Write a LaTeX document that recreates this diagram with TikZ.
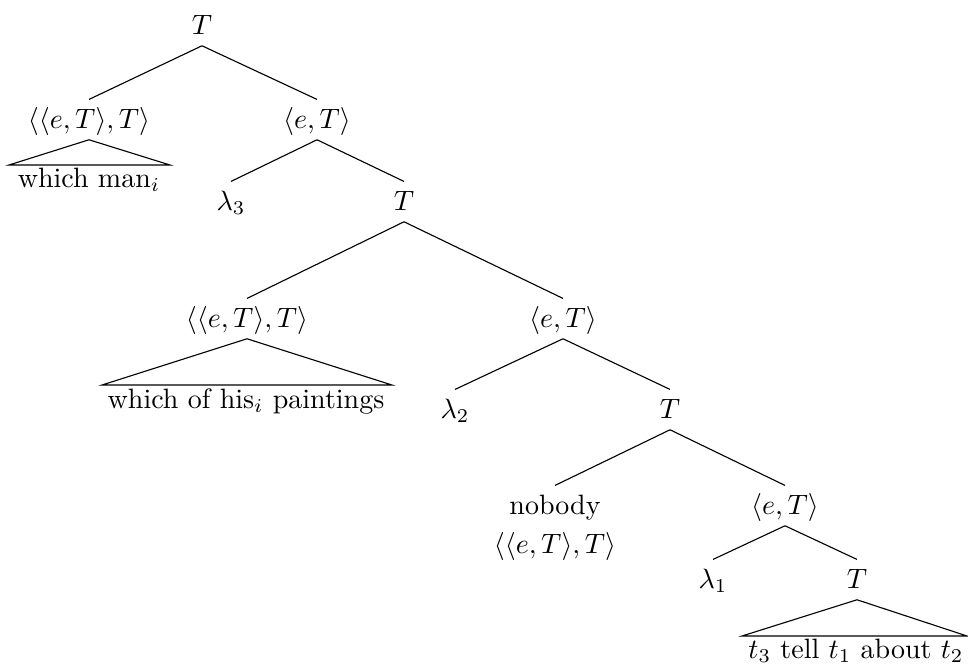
\documentclass[tikz,border=0pt]{standalone}
\begin{document}
\begin{tikzpicture}[x=0.357pt,y=-0.357pt,
  lab/.style={inner sep=0pt, text height=10pt, text depth=4pt, anchor=base},
  txt/.style={inner sep=0pt, anchor=base},
  branch/.style={line width=0.4pt}]
\useasboundingbox (0,0) rectangle (968,671);
% nodes
\node[lab] (r) at (202,34) {$T$};
\node[lab] (a) at (89,128) {$\langle\langle e,T\rangle,T\rangle$};
\node[lab] (b) at (317,128) {$\langle e,T\rangle$};
\node[txt] (at) at (89,187) {which man$_i$};
\node[lab] (l3) at (231,210) {$\lambda_3$};
\node[lab] (c) at (404,210) {$T$};
\node[lab] (d) at (247,327) {$\langle\langle e,T\rangle,T\rangle$};
\node[lab] (e) at (563,327) {$\langle e,T\rangle$};
\node[txt] (dt) at (246,408) {which of his$_i$ paintings};
\node[lab] (l2) at (455,418) {$\lambda_2$};
\node[lab] (f) at (670,418) {$T$};
\node[lab] (nob) at (555,514) {nobody};
\node[txt] (nobt) at (555,553) {$\langle\langle e,T\rangle,T\rangle$};
\node[lab] (g) at (785,514) {$\langle e,T\rangle$};
\node[lab] (l1) at (713,588) {$\lambda_1$};
\node[lab] (h) at (857,588) {$T$};
\node[txt] (ht) at (856,658) {$t_3$ tell $t_1$ about $t_2$};
% triangle corners
\coordinate (a1) at (9,165);
\coordinate (a2) at (170,165);
\coordinate (d1) at (102,385);
\coordinate (d2) at (392,385);
\coordinate (h1) at (742,636);
\coordinate (h2) at (967,636);
% branches
\draw[branch] (r.south) -- (a.north);
\draw[branch] (r.south) -- (b.north);
\draw[branch] (b.south) -- (l3.north);
\draw[branch] (b.south) -- (c.north);
\draw[branch] (c.south) -- (d.north);
\draw[branch] (c.south) -- (e.north);
\draw[branch] (e.south) -- (l2.north);
\draw[branch] (e.south) -- (f.north);
\draw[branch] (f.south) -- (nob.north);
\draw[branch] (f.south) -- (g.north);
\draw[branch] (g.south) -- (l1.north);
\draw[branch] (g.south) -- (h.north);
% triangles
\draw[branch] (a.south) -- (a1) -- (a2) -- cycle;
\draw[branch] (d.south) -- (d1) -- (d2) -- cycle;
\draw[branch] (h.south) -- (h1) -- (h2) -- cycle;
\end{tikzpicture}
\end{document}
